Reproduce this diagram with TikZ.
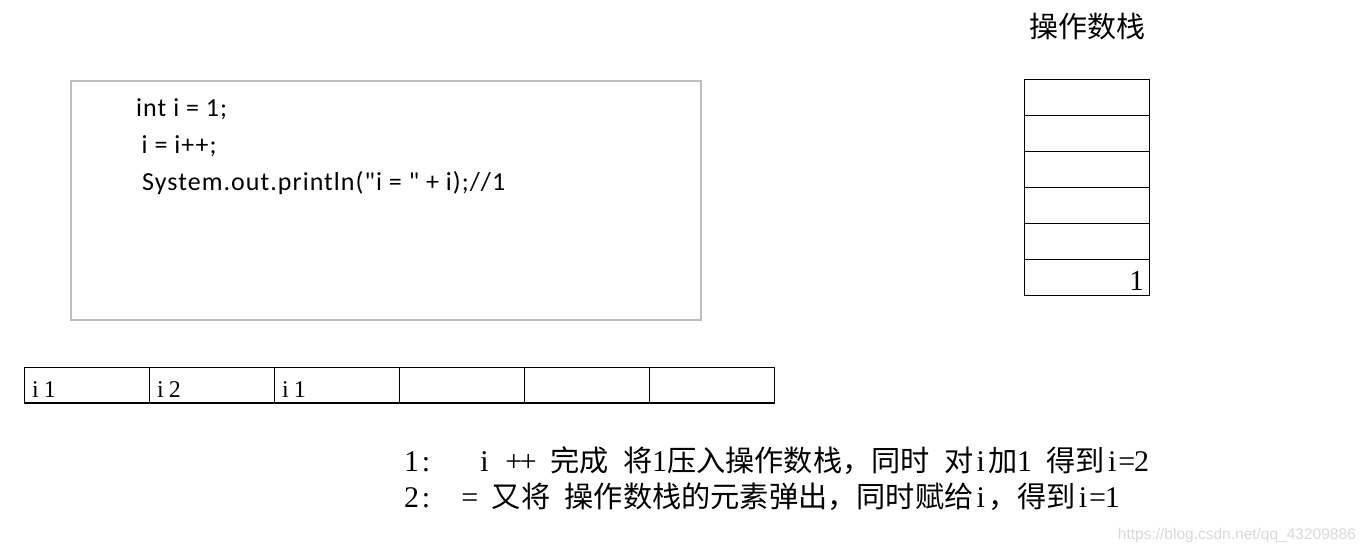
\documentclass[tikz,border=0pt]{standalone}
\usepackage{fontspec}
\setmainfont{Liberation Serif}
\newfontfamily\cjk{Noto Sans CJK SC}
\newfontfamily\codefont[LetterSpace=4]{Carlito}
\newfontfamily\latf{Liberation Serif}
\newfontfamily\wmfont{Liberation Sans}
\newlength\halfcell
\setlength\halfcell{14.6pt}
\newcommand\hc[1]{\makebox[\halfcell][c]{\latf\fontsize{30pt}{30pt}\selectfont #1}}
\newcommand\ac[1]{\makebox[14.5pt][c]{#1}}
\definecolor{boxgray}{HTML}{BEBEBE}
\tikzset{
  codebox/.style={draw=boxgray, line width=2pt, rectangle, minimum width=630pt, minimum height=239pt, inner sep=0pt},
  cell/.style={draw=black, line width=1.2pt, rectangle, minimum width=125pt, minimum height=35.5pt, inner sep=0pt},
  scell/.style={draw=black, line width=1.2pt, rectangle, minimum width=125pt, minimum height=36pt, inner sep=0pt},
  codeline/.style={anchor=base west, inner sep=0pt, font=\codefont\fontsize{26pt}{30pt}\selectfont},
  arrlabel/.style={anchor=base west, inner sep=0pt, font=\latf\fontsize{24pt}{26pt}\selectfont},
  note/.style={anchor=base west, inner sep=0pt, font=\cjk\fontsize{29.2pt}{35pt}\selectfont},
}
\begin{document}
\begin{tikzpicture}[x=1pt, y=-1pt]
\useasboundingbox (0,0) rectangle (1365,554);
% code box
\node[codebox] (code) at (386,200.5) {};
\node[codeline] (c1) at (136,116.7) {int i = 1;};
\node[codeline] (c2) at (141.5,153.3) {i = i++;};
\node[codeline] (c3) at (142,190) {System.out.println("i = " + i);//1};
% operand stack
\node[anchor=center, inner sep=0pt, font=\cjk\fontsize{29pt}{34pt}\selectfont] (title) at (1087,27) {操作数栈};
\node[scell] (s1) at (1086.8,97.3) {};
\node[scell] (s2) at (1086.8,133.3) {};
\node[scell] (s3) at (1086.8,169.3) {};
\node[scell] (s4) at (1086.8,205.3) {};
\node[scell] (s5) at (1086.8,241.3) {};
\node[scell] (s6) at (1086.8,277.3) {};
\node[anchor=base east, inner sep=0pt, font=\latf\fontsize{29pt}{32pt}\selectfont] (sv) at (1144,290) {1};
% local variable array
\node[cell] (a1) at (87,385.25) {};
\node[cell] (a2) at (212,385.25) {};
\node[cell] (a3) at (337,385.25) {};
\node[cell] (a4) at (462,385.25) {};
\node[cell] (a5) at (587,385.25) {};
\node[cell] (a6) at (712,385.25) {};
\node[arrlabel] (t1) at (28,397.3) {\ac{i}\ac{1}};
\node[arrlabel] (t2) at (153,397.3) {\ac{i}\ac{2}};
\node[arrlabel] (t3) at (278,397.3) {\ac{i}\ac{1}};
% notes
\node[note] (n1) at (404,471) {\hc{1}\hc{:}\hc{}\hc{}\hc{}\hc{i}\hc{}\hc{+}\hc{+}\hc{}完成\hc{}将\hc{1}压入操作数栈，同时\hc{}对\hc{i}加\hc{1}\hc{}得到\hc{i}\hc{=}\hc{2}};
\node[note] (n2) at (404,507) {\hc{2}\hc{:}\hc{}\hc{}\hc{=}\hc{}又将\hc{}操作数栈的元素弹出，同时赋给\hc{i}，得到\hc{i}\hc{=}\hc{1}};
% watermark
\node[anchor=base east, inner sep=0pt, text=black!15, font=\wmfont\fontsize{15.5pt}{18pt}\selectfont] (wm) at (1356,539) {https://blog.csdn.net/qq\_43209886};
\end{tikzpicture}
\end{document}
